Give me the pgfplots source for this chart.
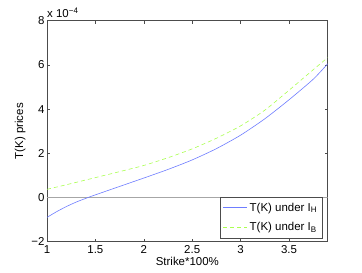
\documentclass[border=0pt]{standalone}
\usepackage{pgfplots}
\pgfplotsset{compat=1.18}
\usepackage{fontspec}
\setmainfont{Liberation Sans}
\definecolor{cblue}{RGB}{110,125,255}
\definecolor{cgreen}{RGB}{170,255,80}
\begin{document}
\begin{tikzpicture}
\begin{axis}[
  name=ax,
  at={(0,0)}, anchor=south west,
  scale only axis, width=280.7bp, height=221bp,
  xmin=1, xmax=3.9, ymin=-2, ymax=8,
  xtick={1,1.5,2,2.5,3,3.5},
  xticklabels={1,1.5,2,2.5,3,3.5},
  ytick={-2,0,2,4,6,8},
  yticklabels={−2,0,2,4,6,8},
  tick align=inside, tick pos=both,
  major tick length=3bp,
  axis line style={black!70, line width=0.7pt},
  tick style={black!70, line width=0.5pt},
  every tick label/.append style={font=\fontsize{11.5}{13}\selectfont},
  xticklabel style={yshift=0bp},
  yticklabel style={xshift=1bp},
  xlabel={Strike*100\%}, ylabel={T(K) prices},
  label style={font=\fontsize{11.5}{13}\selectfont},
  xlabel style={yshift=3bp},
  ylabel style={yshift=-1bp},
  legend style={at={(0.981,0.0136)}, anchor=south east, draw=black!70, line width=0.5pt,
    font=\fontsize{11.5}{13}\selectfont, row sep=6bp, inner ysep=4bp, inner xsep=3bp},
  legend image code/.code={\draw[#1, line width=0.7pt] (0bp,0bp) -- (24bp,0bp);},
  legend cell align=left,
]
\addplot[black!35, line width=0.9pt, forget plot] coordinates {(1,0) (3.9,0)};
\addplot[cblue, line width=0.6pt, smooth, tension=0.4] coordinates {
(1.0,-0.90) (1.1,-0.64) (1.2,-0.41) (1.3,-0.21) (1.4,-0.04) (1.5,0.12)
(1.75,0.50) (2.0,0.88) (2.25,1.27) (2.5,1.70) (2.75,2.21) (3.0,2.82)
(3.25,3.56) (3.5,4.42) (3.75,5.35) (3.9,6.05)};
\addplot[cgreen, line width=0.6pt, dash pattern=on 4bp off 3bp, smooth, tension=0.4] coordinates {
(1.0,0.37) (1.25,0.63) (1.5,0.90) (1.75,1.17) (2.0,1.45) (2.25,1.80) (2.5,2.20)
(2.75,2.68) (3.0,3.24) (3.25,3.95) (3.5,4.85) (3.75,5.78) (3.9,6.33)};
\legend{T(K) under I\textsubscript{H}, T(K) under I\textsubscript{B}}
\end{axis}
\node[anchor=south west, font=\fontsize{11.5}{13}\selectfont, inner sep=0pt] at ([yshift=3bp]ax.north west) {x 10\textsuperscript{−4}};
\pgfresetboundingbox
\path[use as bounding box] (-47bp,-31.3bp) rectangle (315bp,241.7bp);
\end{tikzpicture}
\end{document}
